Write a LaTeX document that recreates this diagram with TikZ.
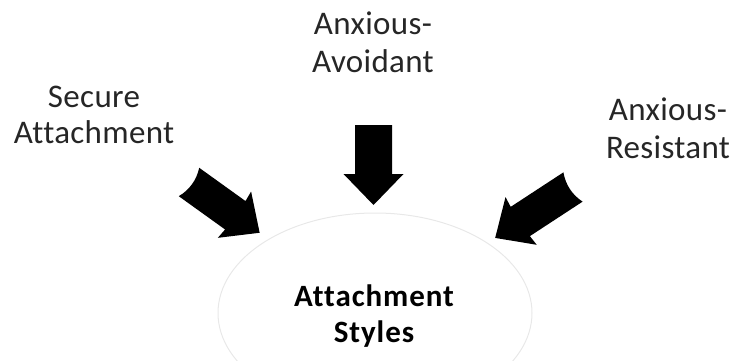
\documentclass[tikz,border=0pt]{standalone}
\usepackage{fontspec}
\setmainfont{Carlito}[Ligatures=CommonOff]
\usetikzlibrary{shapes.geometric}
\begin{document}
\begin{tikzpicture}[x=1pt,y=1pt,
  lbl/.style={anchor=base, align=center, inner sep=0pt, text=black!85,
    font=\fontsize{33}{38}\selectfont\addfontfeature{LetterSpace=1}},
  ctr/.style={anchor=base, align=center, inner sep=0pt,
    font=\bfseries\fontsize{31}{36}\selectfont\addfontfeature{LetterSpace=3}},
  pics/flatarrow/.style={code={
    \fill[black] (0,-18.5) -- (0,18.5) -- (#1-31,18.5) -- (#1-31,30) -- (#1,0)
      -- (#1-31,-30) -- (#1-31,-18.5) -- cycle;}},
  pics/notcharrow/.style={code={
    \fill[black] (0,-17.5) .. controls (5,-6) and (5,6) .. (0,17.5)
      -- (#1-30,17.5) -- (#1-31,28.5) -- (#1,0)
      -- (#1-31,-28.5) -- (#1-30,-17.5) -- cycle;}}
]
\useasboundingbox (0,0) rectangle (732,360);
\begin{scope}
\clip (0,0) rectangle (732,360);
\node[draw=black!9, line width=1pt, ellipse, minimum width=314, minimum height=200,
  inner sep=0pt] (styles) at (375,47) {};
\end{scope}
\node[ctr] (stylestext) at (374,18) {Attachment\\Styles};

\node[lbl, font=\fontsize{33}{36}\selectfont\addfontfeature{LetterSpace=1}] (secure) at (94,217) {Secure\\Attachment};
\node[lbl] (avoid) at (373,288) {Anxious-\\Avoidant};
\node[lbl] (resist) at (668,202) {Anxious-\\Resistant};

\coordinate (tA) at (189,178);
\coordinate (tB) at (373.5,235);
\coordinate (tC) at (573,173);
\pic[rotate=-35.7] at (tA) {notcharrow=87};
\pic[rotate=-90] at (tB) {flatarrow=80};
\pic[rotate=-146.8] at (tC) {notcharrow=93};
\end{tikzpicture}
\end{document}
